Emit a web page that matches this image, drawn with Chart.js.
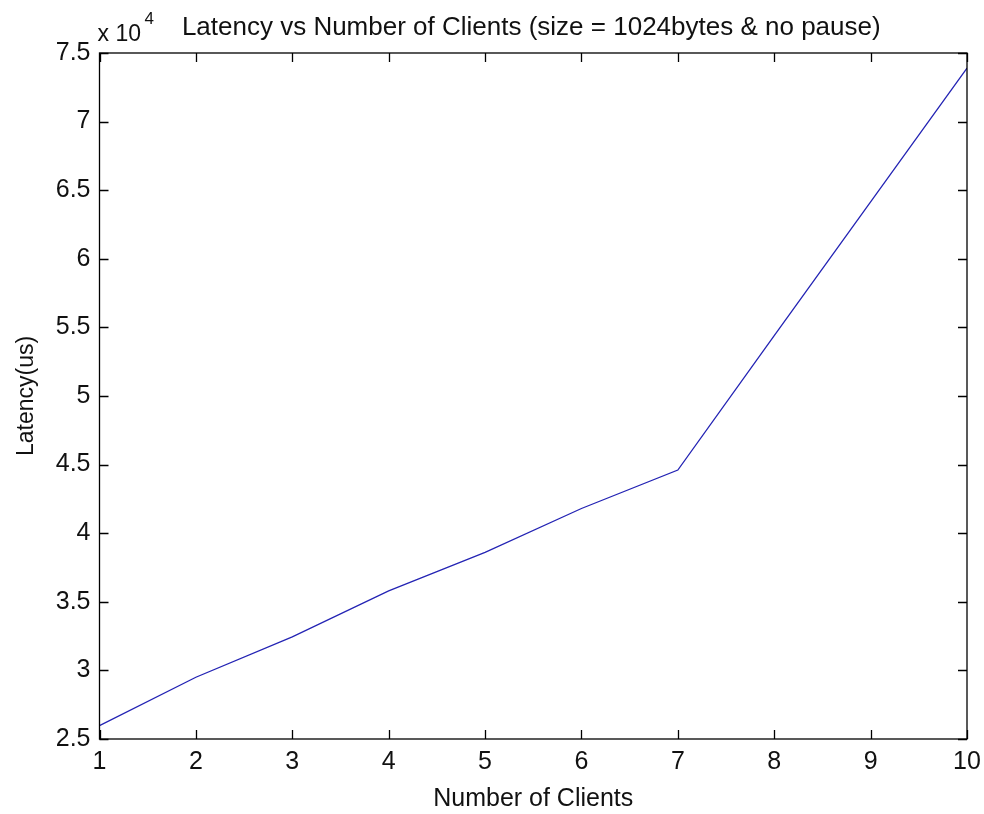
<!DOCTYPE html>
<html>
<head>
<meta charset="utf-8">
<script src="https://cdn.jsdelivr.net/npm/chart.js@4"></script>
<style>
    html, body { margin: 0; padding: 0; background: #fff; }
    #wrap { width: 984px; height: 814px; }
</style>
</head>
<body>
<div id="wrap"><canvas id="grafico"></canvas></div>
<script>
const clientes = [1, 2, 3, 4, 5, 6, 7, 8, 9, 10];
const latencia = [25970, 29500, 32450, 35800, 38600, 41800, 44600, 54400, 64150, 73900];
const ticksX = [1, 2, 3, 4, 5, 6, 7, 8, 9, 10];
const ticksY = [25000, 30000, 35000, 40000, 45000, 50000, 55000, 60000, 65000, 70000, 75000];
const titulo = 'Latency vs Number of Clients (size = 1024bytes & no pause)';
const tituloX = 'Number of Clients';
const tituloY = 'Latency(us)';

const fonte = '"Liberation Sans", Arial, sans-serif';

// caixa, marcas internas e textos do topo
const moldura = {
    id: 'moldura',
    afterDraw(chart) {
        const { ctx, chartArea: a, scales } = chart;
        ctx.save();
        ctx.strokeStyle = '#000';
        ctx.lineWidth = 1.3;
        ctx.strokeRect(a.left, a.top, a.right - a.left, a.bottom - a.top);
        ctx.beginPath();
        ticksX.forEach(function (v) {
            const px = Math.round(scales.x.getPixelForValue(v)) + 0.5;
            ctx.moveTo(px, a.bottom); ctx.lineTo(px, a.bottom - 9);
            ctx.moveTo(px, a.top); ctx.lineTo(px, a.top + 9);
        });
        ticksY.forEach(function (v) {
            const py = Math.round(scales.y.getPixelForValue(v)) + 0.5;
            ctx.moveTo(a.left, py); ctx.lineTo(a.left + 9, py);
            ctx.moveTo(a.right, py); ctx.lineTo(a.right - 9, py);
        });
        ctx.stroke();

        ctx.fillStyle = '#111';
        ctx.textBaseline = 'alphabetic';
        ctx.font = '23px ' + fonte;
        ctx.textAlign = 'left';
        ctx.fillText('x 10', a.left - 2, a.top - 12);
        ctx.font = '17px ' + fonte;
        ctx.fillText('4', a.left + 45, a.top - 29);
        ctx.font = '26px ' + fonte;
        ctx.textAlign = 'center';
        ctx.fillText(titulo, (a.left + a.right) / 2 - 2, a.top - 18);
        ctx.restore();
    }
};

const ctx = document.getElementById('grafico').getContext('2d');
const grafico = new Chart(ctx, {
    type: 'line',
    data: {
        datasets: [{
            data: clientes.map(function (c, i) { return { x: c, y: latencia[i] }; }),
            borderColor: '#2424b4',
            borderWidth: 1.3,
            pointRadius: 0,
            tension: 0,
            fill: false
        }]
    },
    options: {
        responsive: true,
        maintainAspectRatio: false,
        animation: false,
        layout: { padding: { left: 0, right: 17, top: 53, bottom: 0 } },
        plugins: {
            legend: { display: false },
            tooltip: { enabled: false }
        },
        scales: {
            x: {
                type: 'linear',
                min: 1,
                max: 10,
                afterFit: function (s) {
                    s.height = 75;
                    s.paddingLeft = 0;
                    s.paddingRight = 0;
                },
                afterBuildTicks: function (s) { s.ticks = ticksX.map(function (v) { return { value: v }; }); },
                grid: { display: false, drawTicks: false },
                border: { display: false },
                ticks: { color: '#111', font: { family: fonte, size: 25 }, padding: 8, maxRotation: 0 },
                title: { display: true, text: tituloX, color: '#111', font: { family: fonte, size: 25 }, padding: 0 }
            },
            y: {
                min: 25000,
                max: 75000,
                afterFit: function (s) {
                    s.width = 99.5;
                    s.paddingTop = 0;
                    s.paddingBottom = 0;
                },
                afterBuildTicks: function (s) { s.ticks = ticksY.map(function (v) { return { value: v }; }); },
                grid: { display: false, drawTicks: false },
                border: { display: false },
                ticks: {
                    color: '#111',
                    font: { family: fonte, size: 25 },
                    padding: 9,
                    callback: function (value) { return String(value / 10000); }
                },
                title: { display: true, text: tituloY, color: '#111', font: { family: fonte, size: 23 }, padding: 13 }
            }
        }
    },
    plugins: [moldura]
});
</script>
</body>
</html>
